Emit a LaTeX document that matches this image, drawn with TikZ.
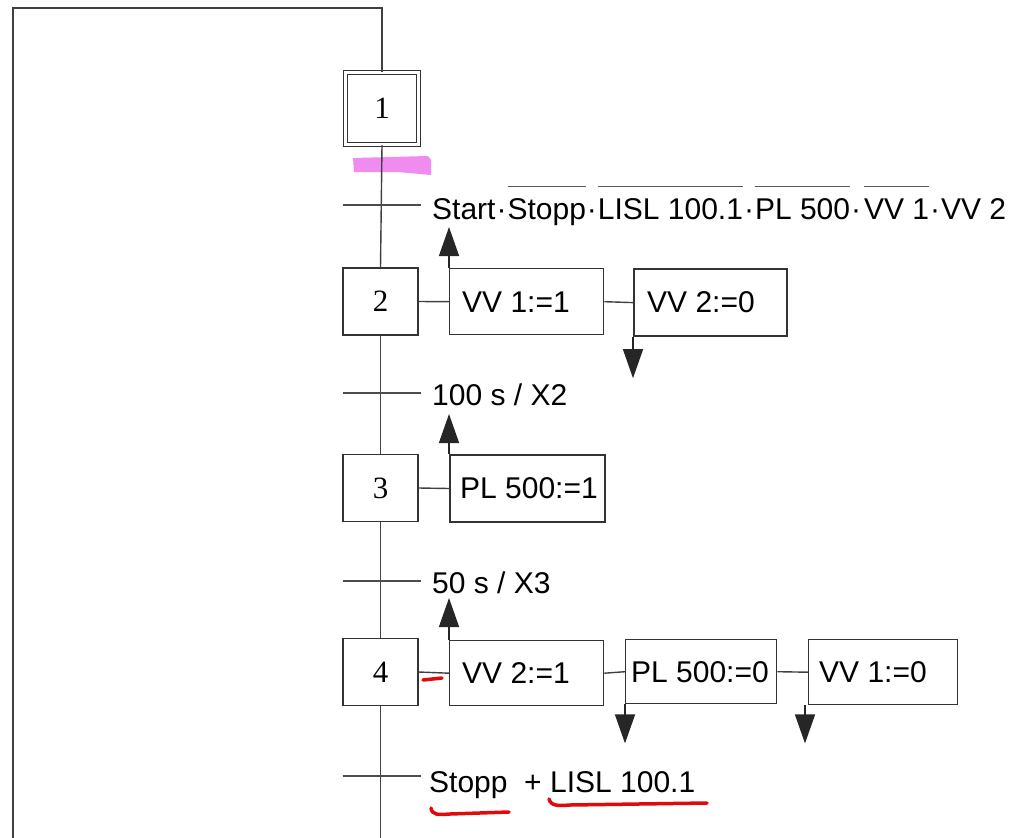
\documentclass[tikz,border=0pt]{standalone}
\usepackage{fontspec}
\setmainfont{Liberation Sans}
\newfontfamily\stepfont{Liberation Serif}
\usetikzlibrary{arrows.meta}
\newcommand\ovl[1]{\setbox0\hbox{#1}\rlap{\raisebox{1.08em}{\color{black!65}\rule{\wd0}{0.9pt}}}\box0}
\definecolor{hlpink}{RGB}{240,140,240}
\definecolor{pen}{RGB}{225,10,10}
\begin{document}
\begin{tikzpicture}[x=1pt,y=-1pt,
  ln/.style={draw=black!75, line width=1.4pt},
  stepbox/.style={draw=black!80, fill=white, line width=1.4pt, minimum width=75pt, minimum height=67pt, inner sep=0pt, font=\stepfont\fontsize{31}{31}\selectfont},
  act/.style={draw=black!80, fill=white, line width=1.4pt, inner sep=0pt, anchor=north west},
  acttxt/.style={font=\fontsize{30}{32}\selectfont, inner sep=0pt, anchor=west},
  lbl/.style={font=\fontsize{30}{32}\selectfont, inner sep=0pt, anchor=base west},
  arr/.style={-{Triangle[length=29pt,width=20pt]}, draw=black!85, fill=black, line width=1.4pt},
  redpen/.style={draw=pen, line width=3.5pt, line cap=round}
]
\useasboundingbox (0,0) rectangle (1015,838);

% highlighter mark
\fill[hlpink] (353,158) -- (428,156) -- (431,160) -- (431,175) -- (398,172) -- (354,172) -- cycle;

% steps
\node[stepbox, minimum width=73pt, minimum height=72pt, double, double distance=3pt, line width=1.3pt] (s1) at (382,108.5) {1};
\node[stepbox] (s2) at (380.5,301.5) {2};
\node[stepbox] (s3) at (380.5,488) {3};
\node[stepbox] (s4) at (380.5,672) {4};

% loop back
\coordinate (lb) at (13,838);
\coordinate (lt) at (13,8);
\coordinate (rt) at (382,8);
\draw[draw=black!75, line width=1.8pt] (lb) -- (lt) -- (rt) -- (s1.north);

% main line
\coordinate (bot) at (380.5,838);
\draw[ln] (s1.south) -- (s2.north);
\draw[ln] (s2.south) -- (s3.north);
\draw[ln] (s3.south) -- (s4.north);
\draw[ln] (s4.south) -- (bot);

% transitions
\coordinate (t1) at (380.5,205);
\coordinate (t2) at (380.5,393);
\coordinate (t3) at (380.5,581);
\coordinate (t4) at (380.5,776);
\foreach \t in {t1,t2,t3,t4} \draw[draw=black!70, line width=1.1pt] ([xshift=-38pt]\t) -- ([xshift=40pt]\t);

\node[lbl] (c1) at (432,219) {Start\kern1pt·\kern1pt\ovl{Stopp}\kern1pt·\kern1pt\ovl{LISL 100.1}\kern1pt·\kern1pt\ovl{PL 500}\kern1pt·\kern3pt\ovl{VV 1}\kern1pt·\kern1pt VV 2};
\node[lbl] (c2) at (432,405) {100 s / X2};
\node[lbl] (c3) at (432,593) {50 s / X3};
\node[lbl] (c4) at (429,792) {Stopp \ + LISL 100.1};

% actions step 2
\node[act, minimum width=154pt, minimum height=66pt] (a21) at (449,268) {};
\node[acttxt] (a21t) at ([xshift=13pt]a21.west) {VV 1:=1};
\node[act, minimum width=153pt, minimum height=67pt, line width=2.2pt] (a22) at (633,268) {};
\node[acttxt] (a22t) at ([xshift=14pt]a22.west) {VV 2:=0};
\draw[ln] (s2.east) -- (a21.west);
\draw[ln] (a21.east) -- (a22.west);
\draw[arr] (a21.north west) -- ++(0,-41);
\draw[arr] (a22.south west) -- ++(0,41);

% actions step 3
\node[act, minimum width=155pt, minimum height=67pt, line width=2pt] (a31) at (449,454) {};
\node[acttxt] (a31t) at ([xshift=11pt]a31.west) {PL 500:=1};
\draw[ln] (s3.east) -- (a31.west);
\draw[arr] (a31.north west) -- ++(0,-40);

% actions step 4
\node[act, minimum width=154pt, minimum height=65pt] (a41) at (449,640) {};
\node[acttxt] (a41t) at ([xshift=13pt]a41.west) {VV 2:=1};
\node[act, minimum width=151pt, minimum height=64pt] (a42) at (625,639) {};
\node[acttxt] (a42t) at ([xshift=6pt]a42.west) {PL 500:=0};
\node[act, minimum width=149pt, minimum height=65pt] (a43) at (808,639) {};
\node[acttxt] (a43t) at ([xshift=11pt]a43.west) {VV 1:=0};
\draw[ln] (s4.east) -- (a41.west);
\draw[ln] (a41.east) -- (a42.west);
\draw[ln] (a42.east) -- (a43.west);
\draw[arr] (a41.north west) -- ++(0,-42);
\draw[arr] (a42.south west) -- ++(0,39);
\draw[arr] ([xshift=-3pt]a43.south west) -- ++(0,38);

% red pen marks
\draw[redpen] (423,680) -- (442,678);
\draw[redpen] (431,808) .. controls (432,815) and (438,815) .. (450,814) -- (509,812);
\draw[redpen] (549,799) .. controls (551,806) and (558,806) .. (570,805) -- (707,803);
\end{tikzpicture}
\end{document}
